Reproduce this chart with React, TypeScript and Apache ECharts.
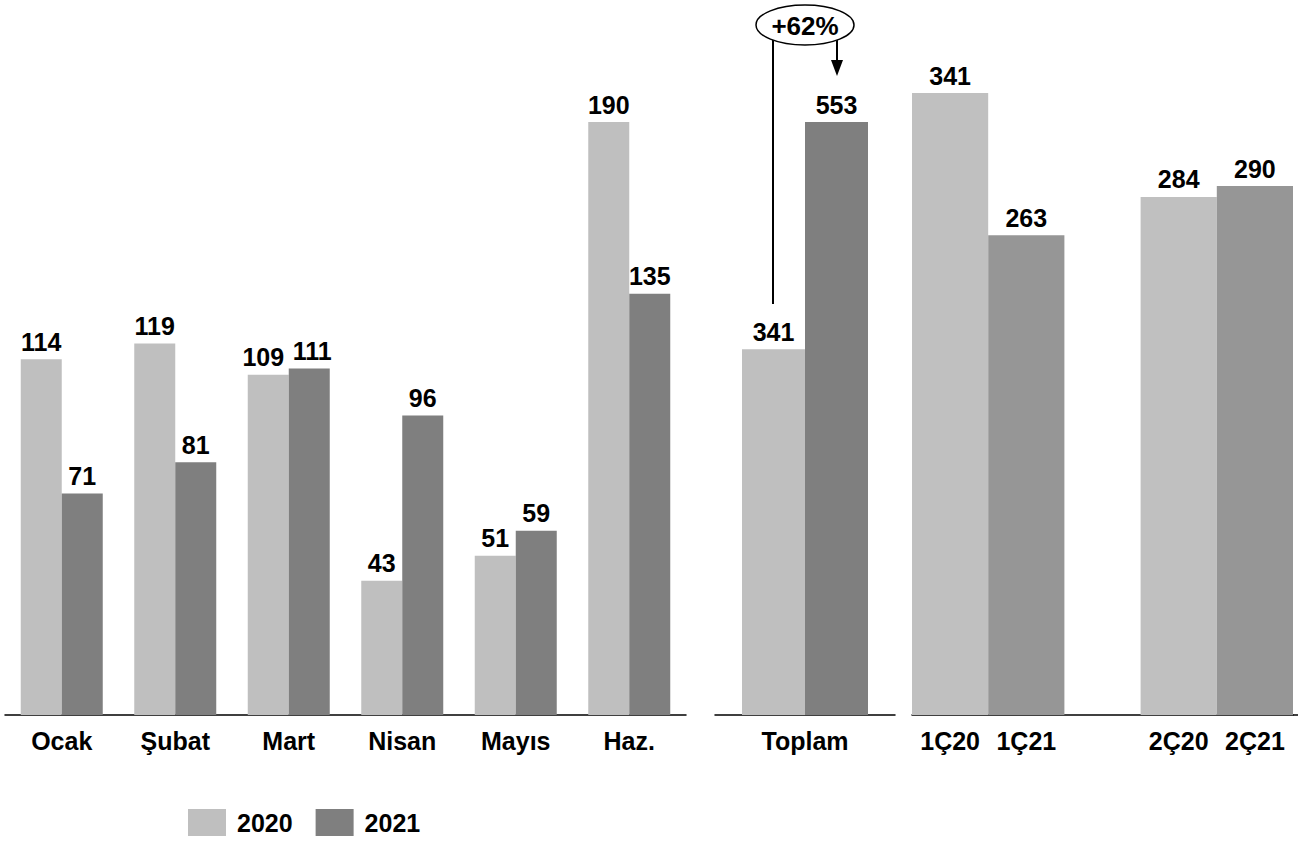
import React, { useEffect, useRef } from "react";
import * as echarts from "echarts";

const months = ["Ocak", "Şubat", "Mart", "Nisan", "Mayıs", "Haz."];
const monthly2020 = [114, 119, 109, 43, 51, 190];
const monthly2021 = [71, 81, 111, 96, 59, 135];

const totalCategory = ["Toplam"];
const total2020 = [341];
const total2021 = [553];
const growthLabel = "+62%";

const quarterCategories = ["1Ç20", "1Ç21", "", "2Ç20", "2Ç21"];
const quarterValues: (number | string)[] = [341, 263, "-", 284, 290];
const quarterIsCurrent = [false, true, false, false, true];

const LIGHT = "#BFBFBF";
const DARK = "#7F7F7F";
const Q_LIGHT = "#C0C0C0";
const Q_DARK = "#969696";
const FONT = "'Liberation Sans', Arial, sans-serif";

export default function App() {
  const ref = useRef<HTMLDivElement>(null);

  useEffect(() => {
    if (!ref.current) return;
    const chart = echarts.init(ref.current, undefined, { renderer: "svg" });

    const axisLabel = {
      color: "#000",
      fontWeight: "bold" as const,
      fontSize: 25,
      fontFamily: FONT,
      margin: 13,
      interval: 0,
    };
    const axisLine = { show: true, lineStyle: { color: "#000", width: 1.5 } };
    const valLabel = {
      show: true,
      position: "top" as const,
      distance: 5,
      color: "#000",
      fontWeight: "bold" as const,
      fontSize: 25,
      fontFamily: FONT,
    };

    // nudge the two touching labels above "Mart" apart, as in the reference
    const nudge = (arr: number[], idx: number, dx: number) =>
      arr.map((v, i) => (i === idx ? { value: v, label: { offset: [dx, 0] } } : v));

    chart.setOption({
      animation: false,
      backgroundColor: "#fff",
      textStyle: { fontFamily: FONT },
      grid: [
        { left: 5, top: 122, width: 681, height: 593 },
        { left: 715, top: 122, width: 180, height: 593 },
        { left: 912, top: 93, width: 381, height: 622 },
      ],
      xAxis: [
        { gridIndex: 0, type: "category", data: months, axisLine, axisTick: { show: false }, axisLabel },
        { gridIndex: 1, type: "category", data: totalCategory, axisLine, axisTick: { show: false }, axisLabel },
        { gridIndex: 2, type: "category", data: quarterCategories, axisLine, axisTick: { show: false }, axisLabel },
      ],
      yAxis: [
        { gridIndex: 0, type: "value", min: 0, max: 190, show: false, splitLine: { show: false } },
        { gridIndex: 1, type: "value", min: 0, max: 553, show: false, splitLine: { show: false } },
        { gridIndex: 2, type: "value", min: 0, max: 341, show: false, splitLine: { show: false } },
      ],
      legend: {
        left: 188,
        top: 809,
        padding: 0,
        itemWidth: 38,
        itemHeight: 27,
        itemGap: 23,
        icon: "rect",
        data: ["2020", "2021"],
        textStyle: {
          color: "#000",
          fontWeight: "bold",
          fontSize: 25,
          fontFamily: FONT,
          padding: [0, 0, 0, 6],
        },
      },
      series: [
        {
          name: "2020",
          type: "bar",
          xAxisIndex: 0,
          yAxisIndex: 0,
          data: nudge(monthly2020, 2, -5),
          barWidth: 41,
          barGap: "0%",
          itemStyle: { color: LIGHT },
          label: valLabel,
        },
        {
          name: "2021",
          type: "bar",
          xAxisIndex: 0,
          yAxisIndex: 0,
          data: nudge(monthly2021, 2, 3),
          barWidth: 41,
          barGap: "0%",
          itemStyle: { color: DARK },
          label: valLabel,
        },
        {
          name: "2020",
          type: "bar",
          xAxisIndex: 1,
          yAxisIndex: 1,
          data: total2020,
          barWidth: 63,
          barGap: "0%",
          itemStyle: { color: LIGHT },
          label: valLabel,
        },
        {
          name: "2021",
          type: "bar",
          xAxisIndex: 1,
          yAxisIndex: 1,
          data: total2021,
          barWidth: 63,
          barGap: "0%",
          itemStyle: { color: DARK },
          label: valLabel,
        },
        {
          name: "Çeyrek",
          type: "bar",
          xAxisIndex: 2,
          yAxisIndex: 2,
          barCategoryGap: "0%",
          data: quarterValues.map((v, i) => ({
            value: v,
            itemStyle: { color: quarterIsCurrent[i] ? Q_DARK : Q_LIGHT },
          })),
          label: valLabel,
        },
      ],
      graphic: [
        {
          type: "line",
          shape: { x1: 1293, y1: 715, x2: 1298, y2: 715 },
          style: { stroke: "#000", lineWidth: 1.5 },
        },
        {
          type: "line",
          shape: { x1: 773, y1: 40, x2: 773, y2: 304 },
          style: { stroke: "#000", lineWidth: 2 },
        },
        {
          type: "line",
          shape: { x1: 837, y1: 40, x2: 837, y2: 62 },
          style: { stroke: "#000", lineWidth: 2 },
        },
        {
          type: "polygon",
          shape: { points: [[831, 60], [843, 60], [837, 76]] },
          style: { fill: "#000" },
        },
        {
          type: "ellipse",
          shape: { cx: 805, cy: 25, rx: 49, ry: 20 },
          style: { fill: "#fff", stroke: "#000", lineWidth: 1.5 },
        },
        {
          type: "text",
          x: 805,
          y: 26,
          style: {
            text: growthLabel,
            align: "center",
            verticalAlign: "middle",
            fill: "#000",
            fontWeight: "bold",
            fontSize: 26,
            fontFamily: FONT,
          },
        },
      ],
    });

    return () => chart.dispose();
  }, []);

  return (
    <div
      ref={ref}
      style={{ position: "fixed", left: 0, top: 0, width: 1298, height: 841 }}
    />
  );
}
